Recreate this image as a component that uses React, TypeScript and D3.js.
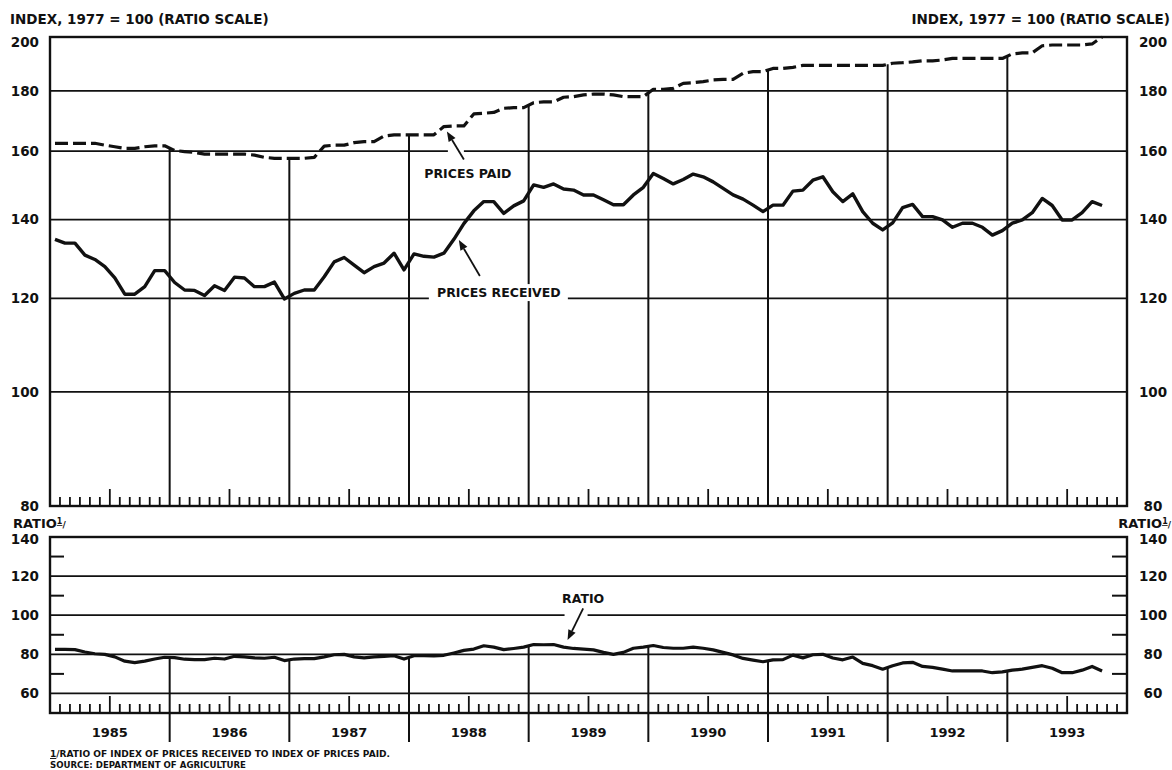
import * as d3 from 'd3';
import { useEffect, useRef } from 'react';

const WIDTH = 1172;
const HEIGHT = 770;
const FONT = '"DejaVu Sans", Verdana, sans-serif';

const YEARS = ['1985', '1986', '1987', '1988', '1989', '1990', '1991', '1992', '1993'];

// monthly, Jan 1985 - Oct 1993
const PRICES_RECEIVED = [
    134.7, 133.7, 133.7, 130.6, 129.5, 127.7, 124.9, 121.0, 121.0, 122.8, 126.7, 126.7,
    123.8, 122.0, 121.9, 120.7, 123.0, 121.9, 125.1, 124.9, 122.8, 122.8, 123.9, 119.9,
    121.2, 122.0, 122.0, 125.2, 128.9, 130.0, 128.1, 126.2, 127.7, 128.6, 131.1, 126.9,
    130.9, 130.3, 130.1, 131.1, 134.7, 138.9, 142.4, 145.0, 145.0, 141.7, 143.8, 145.2,
    149.8, 149.1, 150.1, 148.6, 148.3, 146.9, 146.9, 145.5, 144.1, 144.1, 146.9, 149.1,
    153.2, 151.7, 150.1, 151.4, 153.0, 152.2, 150.7, 148.8, 146.9, 145.7, 144.0, 142.2,
    144.0, 144.0, 148.0, 148.3, 151.2, 152.2, 147.8, 145.0, 147.2, 142.2, 139.0, 137.2,
    139.1, 143.3, 144.2, 140.8, 140.8, 139.9, 137.9, 139.0, 139.0, 137.9, 135.8, 137.0,
    139.0, 139.9, 141.9, 145.9, 143.9, 139.9, 139.9, 141.9, 145.0, 143.9,
];

const PRICES_PAID = [
    162.5, 162.5, 162.5, 162.5, 162.5, 161.9, 161.4, 160.9, 160.9, 161.4, 161.7, 161.7,
    160.2, 159.9, 159.6, 159.1, 159.1, 159.1, 159.1, 159.1, 158.8, 158.1, 157.8, 157.8,
    157.8, 157.8, 158.1, 161.6, 161.9, 161.9, 162.7, 163.0, 163.0, 164.8, 165.2, 165.2,
    165.2, 165.2, 165.2, 167.9, 168.1, 168.1, 172.1, 172.3, 172.6, 174.0, 174.2, 174.2,
    175.9, 176.2, 176.2, 177.8, 178.0, 178.6, 178.9, 178.9, 178.6, 178.0, 178.0, 178.0,
    180.6, 180.6, 180.9, 182.7, 182.9, 183.3, 183.9, 184.1, 184.1, 186.3, 186.9, 186.9,
    188.1, 188.1, 188.5, 189.2, 189.2, 189.2, 189.2, 189.2, 189.2, 189.2, 189.2, 189.2,
    190.0, 190.2, 190.5, 190.9, 190.9, 191.2, 191.8, 191.8, 191.8, 191.8, 191.8, 191.8,
    193.5, 193.9, 193.9, 196.6, 196.9, 196.9, 196.9, 196.9, 197.3, 200.0,
];

const RATIO = [
    82.5, 82.5, 82.4, 81.2, 80.3, 80.0, 78.7, 76.5, 75.8, 76.5, 77.6, 78.5,
    78.3, 77.5, 77.3, 77.3, 78.0, 77.6, 79.0, 78.7, 78.2, 78.0, 78.5, 76.8,
    77.6, 77.8, 77.8, 78.7, 79.8, 80.0, 78.7, 78.2, 78.7, 79.0, 79.3, 77.6,
    79.3, 79.3, 79.2, 79.5, 80.7, 82.0, 82.7, 84.4, 83.7, 82.4, 83.0, 83.7,
    85.0, 84.9, 85.0, 83.7, 83.0, 82.7, 82.3, 81.0, 80.0, 81.0, 83.1, 83.7,
    84.5, 83.5, 83.1, 83.1, 83.7, 83.1, 82.3, 81.0, 79.7, 77.9, 77.0, 76.2,
    77.2, 77.3, 79.6, 78.2, 79.8, 80.0, 78.1, 77.2, 78.6, 75.4, 74.2, 72.4,
    74.2, 75.6, 75.9, 73.8, 73.3, 72.4, 71.5, 71.5, 71.5, 71.5, 70.6, 71.0,
    71.9, 72.4, 73.3, 74.2, 72.9, 70.6, 70.6, 71.9, 73.8, 71.5,
];

const UPPER_LABELS = [200, 180, 160, 140, 120, 100, 80];
const UPPER_GRID = [180, 160, 140, 120, 100];
const LOWER_LABELS = [140, 120, 100, 80, 60];
const LOWER_GRID = [120, 100, 80, 60];
const LOWER_MINOR = [130, 110, 90, 70];

const HEADER = 'INDEX, 1977 = 100 (RATIO SCALE)';
const FOOTNOTE = 'RATIO OF INDEX OF PRICES RECEIVED TO INDEX OF PRICES PAID.';
const SOURCE = 'SOURCE: DEPARTMENT OF AGRICULTURE';

// annotation tips in data units (month index, value)
const PAID_NOTE = { text: 'PRICES PAID', month: 39.8, value: 166.3 };
const RECEIVED_NOTE = { text: 'PRICES RECEIVED', month: 41.0, value: 134.5 };
const RATIO_NOTE = { text: 'RATIO', month: 51.9, value: 87.3 };

const LEFT = 50;
const RIGHT = 1127;
const UP_TOP = 37;
const UP_BOTTOM = 506;
const LOW_TOP = 537;
const LOW_BOTTOM = 713;

export default function App() {
    const svgRef = useRef<SVGSVGElement>(null);

    useEffect(() => {
        if (!svgRef.current) return;
        const svg = d3.select(svgRef.current);
        svg.selectAll('*').remove();

        const months = YEARS.length * 12;
        const x = d3.scaleLinear().domain([0, months]).range([LEFT, RIGHT]);
        const yUp = d3.scaleLog().domain([80, 200]).range([UP_BOTTOM, UP_TOP]);
        const yLow = d3.scaleLinear().domain([50, 140]).range([LOW_BOTTOM, LOW_TOP]);

        svg.append('rect').attr('width', WIDTH).attr('height', HEIGHT).attr('fill', '#fff');

        const ink = '#111';
        const g = svg.append('g');

        // horizontal grid
        g.selectAll('line.ugrid')
            .data(UPPER_GRID)
            .enter()
            .append('line')
            .attr('x1', LEFT)
            .attr('x2', RIGHT)
            .attr('y1', (d) => yUp(d))
            .attr('y2', (d) => yUp(d))
            .attr('stroke', ink)
            .attr('stroke-width', 1.7);

        g.selectAll('line.lgrid')
            .data(LOWER_GRID)
            .enter()
            .append('line')
            .attr('x1', LEFT)
            .attr('x2', RIGHT)
            .attr('y1', (d) => yLow(d))
            .attr('y2', (d) => yLow(d))
            .attr('stroke', ink)
            .attr('stroke-width', 1.7);

        // minor ticks on the ratio panel
        LOWER_MINOR.forEach((v) => {
            g.append('line').attr('x1', LEFT).attr('x2', LEFT + 14).attr('y1', yLow(v)).attr('y2', yLow(v)).attr('stroke', ink).attr('stroke-width', 2);
            g.append('line').attr('x1', RIGHT - 15).attr('x2', RIGHT).attr('y1', yLow(v)).attr('y2', yLow(v)).attr('stroke', ink).attr('stroke-width', 2);
        });

        // year dividers, hanging from the series lines
        const boundaries = d3.range(1, YEARS.length);
        boundaries.forEach((k) => {
            const m = k * 12;
            const yTopUp = (yUp(PRICES_PAID[m - 1]) + yUp(PRICES_PAID[m])) / 2;
            g.append('line').attr('x1', x(m)).attr('x2', x(m)).attr('y1', yTopUp).attr('y2', UP_BOTTOM).attr('stroke', ink).attr('stroke-width', 2);
            const yTopLow = (yLow(RATIO[m - 1]) + yLow(RATIO[m])) / 2;
            g.append('line').attr('x1', x(m)).attr('x2', x(m)).attr('y1', yTopLow).attr('y2', LOW_BOTTOM + 29).attr('stroke', ink).attr('stroke-width', 2);
        });

        // month ticks
        YEARS.forEach((_, yi) => {
            d3.range(1, 12).forEach((k) => {
                const xm = x(yi * 12 + k);
                const len = k === 6 ? 17 : 9;
                g.append('line').attr('x1', xm).attr('x2', xm).attr('y1', UP_BOTTOM).attr('y2', UP_BOTTOM - len).attr('stroke', ink).attr('stroke-width', 1.8);
                g.append('line').attr('x1', xm).attr('x2', xm).attr('y1', LOW_BOTTOM).attr('y2', LOW_BOTTOM - len).attr('stroke', ink).attr('stroke-width', 1.8);
            });
        });

        // frames
        g.append('rect').attr('x', LEFT).attr('y', UP_TOP).attr('width', RIGHT - LEFT).attr('height', UP_BOTTOM - UP_TOP).attr('fill', 'none').attr('stroke', ink).attr('stroke-width', 2.4);
        g.append('rect').attr('x', LEFT).attr('y', LOW_TOP).attr('width', RIGHT - LEFT).attr('height', LOW_BOTTOM - LOW_TOP).attr('fill', 'none').attr('stroke', ink).attr('stroke-width', 2.4);

        // label masks
        const recX = x(RECEIVED_NOTE.month) + 40;
        const recY = yUp(RECEIVED_NOTE.value) + 57;
        g.append('rect').attr('x', recX - 70).attr('y', recY - 13).attr('width', 139).attr('height', 17).attr('fill', '#fff');
        const paidTipX = x(PAID_NOTE.month);
        const paidTipY = yUp(PAID_NOTE.value);
        g.append('rect').attr('x', paidTipX + 1).attr('y', yUp(160) - 3).attr('width', 16).attr('height', 6).attr('fill', '#fff');
        const ratioTipX = x(RATIO_NOTE.month);
        const ratioTipY = yLow(RATIO_NOTE.value);
        g.append('rect').attr('x', ratioTipX - 3).attr('y', yLow(100) - 3).attr('width', 23).attr('height', 6).attr('fill', '#fff');

        // series
        const lineUp = d3
            .line<number>()
            .x((_, i) => x(i + 0.5))
            .y((d) => yUp(d));
        const lineLow = d3
            .line<number>()
            .x((_, i) => x(i + 0.5))
            .y((d) => yLow(d));

        g.append('path').attr('d', lineUp(PRICES_PAID)).attr('fill', 'none').attr('stroke', ink).attr('stroke-width', 3.2).attr('stroke-dasharray', '13,5').attr('stroke-linejoin', 'round');
        g.append('path').attr('d', lineUp(PRICES_RECEIVED)).attr('fill', 'none').attr('stroke', ink).attr('stroke-width', 3.4).attr('stroke-linejoin', 'round');
        g.append('path').attr('d', lineLow(RATIO)).attr('fill', 'none').attr('stroke', ink).attr('stroke-width', 3.2).attr('stroke-linejoin', 'round');

        // arrows
        const arrow = (tx: number, ty: number, fx: number, fy: number) => {
            const ang = Math.atan2(ty - fy, tx - fx);
            const hl = 10;
            const hw = 4;
            const bx = tx - hl * Math.cos(ang);
            const by = ty - hl * Math.sin(ang);
            g.append('line').attr('x1', fx).attr('y1', fy).attr('x2', bx).attr('y2', by).attr('stroke', ink).attr('stroke-width', 1.8);
            g.append('path')
                .attr('d', `M${tx},${ty}L${bx + hw * Math.sin(ang)},${by - hw * Math.cos(ang)}L${bx - hw * Math.sin(ang)},${by + hw * Math.cos(ang)}Z`)
                .attr('fill', ink);
        };
        arrow(paidTipX, paidTipY, paidTipX + 17, paidTipY + 28);
        const recTipX = x(RECEIVED_NOTE.month);
        const recTipY = yUp(RECEIVED_NOTE.value);
        arrow(recTipX, recTipY, recTipX + 21, recTipY + 36);
        arrow(ratioTipX, ratioTipY, ratioTipX + 15.6, ratioTipY - 31.7);

        const text = (tx: number, ty: number, s: string, size: number, anchor = 'start') =>
            g
                .append('text')
                .attr('x', tx)
                .attr('y', ty)
                .attr('font-family', FONT)
                .attr('font-weight', 'bold')
                .attr('font-size', size)
                .attr('fill', ink)
                .attr('text-anchor', anchor)
                .text(s);

        text(paidTipX + 21, paidTipY + 47, PAID_NOTE.text, 12.5, 'middle');
        text(recX, recY, RECEIVED_NOTE.text, 12.5, 'middle');
        text(ratioTipX + 15.6, ratioTipY - 37, RATIO_NOTE.text, 12.5, 'middle');

        // headers
        text(10, 24, HEADER, 13.5);
        text(1170, 24, HEADER, 13.5, 'end');

        // axis labels
        UPPER_LABELS.forEach((v) => {
            const yy = yUp(v) + (v === 200 ? 5 : 0) + 4.8;
            text(39, yy, String(v), 13.5, 'end');
            text(1153, yy, String(v), 13.5, 'middle');
        });
        LOWER_LABELS.forEach((v) => {
            const yy = yLow(v) + (v === 140 ? 2 : 0) + 4.8;
            text(39, yy, String(v), 13.5, 'end');
            text(1153, yy, String(v), 13.5, 'middle');
        });

        const ratioTitle = (tx: number, anchor: string) => {
            const t = text(tx, 528, 'RATIO', 13, anchor);
            t.append('tspan').attr('font-size', 8).attr('dy', -4).attr('text-decoration', 'underline').text('1');
            t.append('tspan').attr('font-size', 9).attr('dy', 4).text('/');
        };
        ratioTitle(13, 'start');
        ratioTitle(1171, 'end');

        // years
        YEARS.forEach((yr, i) => {
            text(x(i * 12 + 6), 736.5, yr, 13, 'middle');
        });

        // footnotes
        const fn = text(50, 757, '', 9.5);
        fn.attr('textLength', 340).attr('lengthAdjust', 'spacingAndGlyphs');
        fn.append('tspan').attr('text-decoration', 'underline').text('1');
        fn.append('tspan').text('/' + FOOTNOTE);
        text(50, 767.5, SOURCE, 9.5).attr('textLength', 196).attr('lengthAdjust', 'spacingAndGlyphs');
    }, []);

    return (
        <svg
            ref={svgRef}
            width={WIDTH}
            height={HEIGHT}
            style={{ position: 'absolute', left: 0, top: 0, background: '#fff' }}
        ></svg>
    );
}
